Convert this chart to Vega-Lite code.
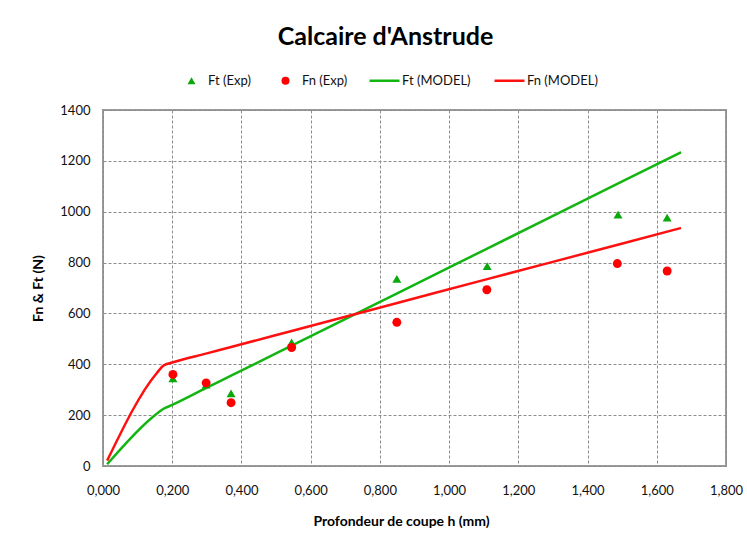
{
  "$schema": "https://vega.github.io/schema/vega-lite/v6.json",
  "width": 623,
  "height": 356,
  "autosize": {"type": "none"},
  "padding": {"left": 103, "top": 110, "right": 21, "bottom": 78},
  "background": "white",
  "config": {
    "locale": {"number": {"decimal": ",", "thousands": " ", "grouping": [3], "currency": ["", ""]}},
    "font": "Lato",
    "view": {"stroke": "#9a9a9a", "strokeWidth": 2},
    "axis": {
      "grid": true, "gridColor": "#8c8c8c", "gridDash": [3, 2], "gridWidth": 1,
      "domain": false, "ticks": false,
      "labelFont": "Lato", "labelFontSize": 13, "labelColor": "#111",
      "labelFlush": false, "labelOverlap": false,
      "titleFont": "Lato", "titleFontSize": 14, "titleFontWeight": "bold", "titleColor": "#000"
    },
    "legend": {"labelFont": "Lato", "labelFontSize": 13, "labelColor": "#111"}
  },
  "title": {
    "text": "Calcaire d'Anstrude",
    "font": "Lato", "fontSize": 25, "fontWeight": "bold", "color": "#000",
    "anchor": "middle", "dx": -29, "offset": -6, "baseline": "alphabetic"
  },
  "data": {
    "values": [
      {"h": 0.202, "F": 345, "series": "Ft (Exp)"},
      {"h": 0.298, "F": 320, "series": "Ft (Exp)"},
      {"h": 0.370, "F": 286, "series": "Ft (Exp)"},
      {"h": 0.545, "F": 486, "series": "Ft (Exp)"},
      {"h": 0.849, "F": 736, "series": "Ft (Exp)"},
      {"h": 1.110, "F": 786, "series": "Ft (Exp)"},
      {"h": 1.488, "F": 989, "series": "Ft (Exp)"},
      {"h": 1.630, "F": 977, "series": "Ft (Exp)"},
      {"h": 0.202, "F": 360, "series": "Fn (Exp)"},
      {"h": 0.298, "F": 327, "series": "Fn (Exp)"},
      {"h": 0.370, "F": 249, "series": "Fn (Exp)"},
      {"h": 0.545, "F": 466, "series": "Fn (Exp)"},
      {"h": 0.849, "F": 565, "series": "Fn (Exp)"},
      {"h": 1.109, "F": 693, "series": "Fn (Exp)"},
      {"h": 1.486, "F": 796, "series": "Fn (Exp)"},
      {"h": 1.630, "F": 767, "series": "Fn (Exp)"},
      {"h": 0.012, "F": 7, "series": "Ft (MODEL)"},
      {"h": 0.150, "F": 200, "series": "Ft (MODEL)"},
      {"h": 0.175, "F": 225, "series": "Ft (MODEL)"},
      {"h": 0.200, "F": 240, "series": "Ft (MODEL)"},
      {"h": 0.300, "F": 308, "series": "Ft (MODEL)"},
      {"h": 0.370, "F": 355, "series": "Ft (MODEL)"},
      {"h": 0.545, "F": 473, "series": "Ft (MODEL)"},
      {"h": 0.850, "F": 679, "series": "Ft (MODEL)"},
      {"h": 1.110, "F": 855, "series": "Ft (MODEL)"},
      {"h": 1.490, "F": 1112, "series": "Ft (MODEL)"},
      {"h": 1.670, "F": 1234, "series": "Ft (MODEL)"},
      {"h": 0.012, "F": 21, "series": "Fn (MODEL)"},
      {"h": 0.155, "F": 365, "series": "Fn (MODEL)"},
      {"h": 0.175, "F": 395, "series": "Fn (MODEL)"},
      {"h": 0.200, "F": 407, "series": "Fn (MODEL)"},
      {"h": 0.300, "F": 443, "series": "Fn (MODEL)"},
      {"h": 0.370, "F": 468, "series": "Fn (MODEL)"},
      {"h": 0.545, "F": 531, "series": "Fn (MODEL)"},
      {"h": 0.850, "F": 641, "series": "Fn (MODEL)"},
      {"h": 1.110, "F": 735, "series": "Fn (MODEL)"},
      {"h": 1.490, "F": 871, "series": "Fn (MODEL)"},
      {"h": 1.670, "F": 936, "series": "Fn (MODEL)"}
    ]
  },
  "encoding": {
    "x": {
      "field": "h", "type": "quantitative",
      "scale": {"domain": [0, 1.8], "nice": false, "zero": false},
      "axis": {
        "values": [0, 0.2, 0.4, 0.6, 0.8, 1.0, 1.2, 1.4, 1.6, 1.8],
        "format": ".3f", "labelPadding": 18,
        "title": "Profondeur de coupe h (mm)",
        "titleX": 298, "titleY": 55, "titleAlign": "center", "titleBaseline": "middle"
      }
    },
    "y": {
      "field": "F", "type": "quantitative",
      "scale": {"domain": [0, 1400], "nice": false},
      "axis": {
        "values": [0, 200, 400, 600, 800, 1000, 1200, 1400],
        "format": "d", "labelPadding": 13, "labelBaseline": "middle",
        "title": "Fn & Ft (N)",
        "titleX": -65, "titleY": 178, "titleAngle": -90, "titleAlign": "center", "titleBaseline": "middle"
      }
    }
  },
  "layer": [
    {
      "transform": [{"filter": "indexof(datum.series, 'MODEL') >= 0"}],
      "mark": {"type": "line", "interpolate": "monotone", "strokeWidth": 2.5},
      "encoding": {
        "order": {"field": "h", "type": "quantitative"},
        "stroke": {
          "field": "series", "type": "nominal",
          "scale": {"domain": ["Ft (MODEL)", "Fn (MODEL)"], "range": ["#12b512", "#ff1010"]},
          "legend": {
            "title": null, "orient": "none", "direction": "horizontal", "columns": 2,
            "legendX": 265, "legendY": -46, "padding": 0,
            "symbolType": "stroke", "symbolSize": 900, "symbolStrokeWidth": 2.5,
            "labelOffset": 1, "columnPadding": 18
          }
        }
      }
    },
    {
      "transform": [{"filter": "indexof(datum.series, 'Exp') >= 0"}],
      "mark": {"type": "point", "filled": true, "opacity": 1, "size": 80},
      "encoding": {
        "fill": {
          "field": "series", "type": "nominal",
          "scale": {"domain": ["Ft (Exp)", "Fn (Exp)"], "range": ["#0aa80a", "#ff0000"]},
          "legend": {
            "title": null, "orient": "none", "direction": "horizontal", "columns": 2,
            "legendX": 82, "legendY": -36, "padding": 0,
            "symbolSize": 64, "labelOffset": 10, "columnPadding": 27, "symbolOpacity": 1
          }
        },
        "shape": {
          "field": "series", "type": "nominal",
          "scale": {"domain": ["Ft (Exp)", "Fn (Exp)"], "range": ["triangle-up", "circle"]},
          "legend": {
            "title": null, "orient": "none", "direction": "horizontal", "columns": 2,
            "legendX": 82, "legendY": -36, "padding": 0,
            "symbolSize": 64, "labelOffset": 10, "columnPadding": 27, "symbolOpacity": 1
          }
        }
      }
    }
  ]
}
